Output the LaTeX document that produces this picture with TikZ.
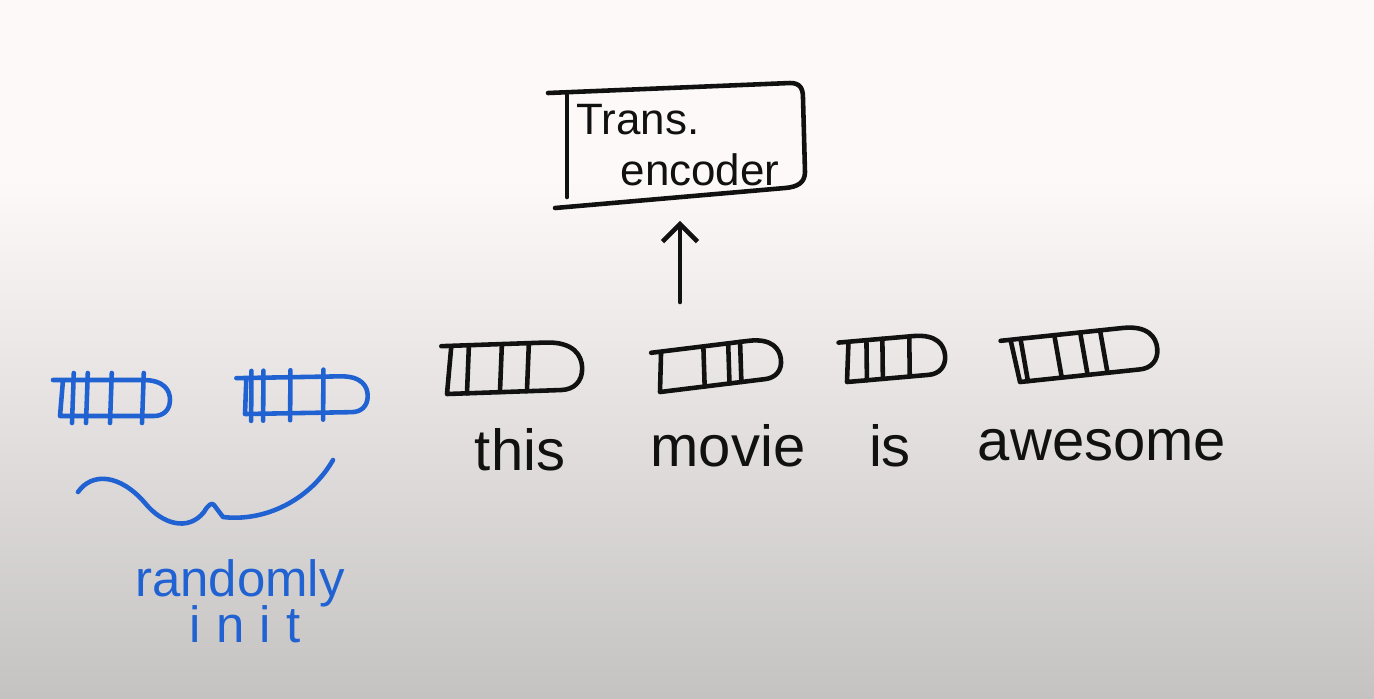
\documentclass[tikz,border=0pt]{standalone}
\usepackage{fontspec}
\setmainfont{Liberation Sans}
\usetikzlibrary{arrows.meta}

\definecolor{bgtop}{HTML}{FDF9F8}
\definecolor{bgbot}{HTML}{C5C3C2}
\definecolor{inkblack}{HTML}{111111}
\definecolor{inkblue}{HTML}{2162D2}

\tikzset{
  ink/.style={line width=2.6pt, line cap=round, line join=round},
  blackink/.style={ink, color=inkblack},
  blueink/.style={ink, color=inkblue},
  word/.style={anchor=base, inner sep=0pt, font=\fontsize{33}{36}\selectfont},
  % width, height, skew, hatch offsets, hatch overshoot
  pics/embvec/.style n args={5}{code={
    \draw (#3-10,-#2) -- (#1-0.75*#2,-#2)
      .. controls (#1-0.15*#2,-#2) and (#1,-0.7*#2) .. (#1,-0.45*#2)
      .. controls (#1,-0.15*#2) and (#1-0.2*#2,0) .. (#1-0.45*#2,0)
      -- (0,0) -- (#3,-#2);
    \foreach \hx in {#4}
      \draw (\hx,#5) -- (\hx+0.6*#3,-#2-#5);
  }}
}

\begin{document}
\begin{tikzpicture}[x=0.02cm, y=-0.02cm]
    % Whiteboard background
    \useasboundingbox (0,0) rectangle (1374,698);
    \fill[bgtop] (0,0) rectangle (1374,181);
    \shade[top color=bgtop, bottom color=bgbot] (0,180) rectangle (1374,698);

    % Encoder block
    \node[align=left, minimum width=4.8cm, minimum height=2.3cm, inner sep=0pt,
          text=inkblack, font=\fontsize{25}{29}\selectfont] (enc) at (678,145)
          {Trans.\\\hspace*{1.0em}encoder};
    \draw[blackink] (548,93) -- (790,83) .. controls (800,83) and (803,88) .. (803,98)
      -- (805,172) .. controls (805,183) and (797,187) .. (785,188) -- (555,208);
    \draw[blackink] (567,95) -- (567,197);

    % Arrow into the encoder
    \coordinate (foot) at (680,302);
    \draw[blackink, -{Straight Barb[length=10pt,width=20pt]}, shorten >=0.36cm]
      (foot) -- (foot |- enc.south);

    % Word embeddings
    \pic[blackink, rotate=2] at (447,394) {embvec={136}{48}{6}{20,53,80}{0}};
    \pic[blackink, rotate=7] at (660,392) {embvec={124}{40}{6}{45,70,82}{0}};
    \pic[blackink, rotate=5] at (847,382) {embvec={100}{40}{5}{20,36,63}{0}};
    \pic[blackink, rotate=6] at (1020,382) {embvec={140}{43}{-5}{8,42,68,88}{0}};

    % Extra embeddings
    \pic[blueink] at (60,416) {embvec={110}{36}{3}{12,26,50,82}{7}};
    \pic[blueink, rotate=1] at (245,414) {embvec={123}{36}{2}{6,18,45,78}{7}};

    % Words
    \node[word, text=inkblack] (wthis) at (520,470) {this};
    \node[word, text=inkblack] (wmovie) at (728,466) {movie};
    \node[word, text=inkblack] (wis) at (890,466) {is};
    \node[word, text=inkblack] (wawesome) at (1102,460) {awesome};

    % Brace under the blue ones
    \draw[blueink] (78,492) .. controls (92,472) and (120,474) .. (145,503)
      .. controls (162,524) and (188,532) .. (204,512) .. controls (208,505) and (212,502) .. (214,505)
      -- (223,517) .. controls (265,522) and (310,500) .. (333,460);
    \node[word, text=inkblue, font=\fontsize{29}{30}\selectfont] (wrandom) at (240,596) {randomly};
    \node[word, text=inkblue, font=\fontsize{29}{30}\selectfont\addfontfeatures{LetterSpace=30}] (winit) at (245,642) {init};
\end{tikzpicture}
\end{document}
